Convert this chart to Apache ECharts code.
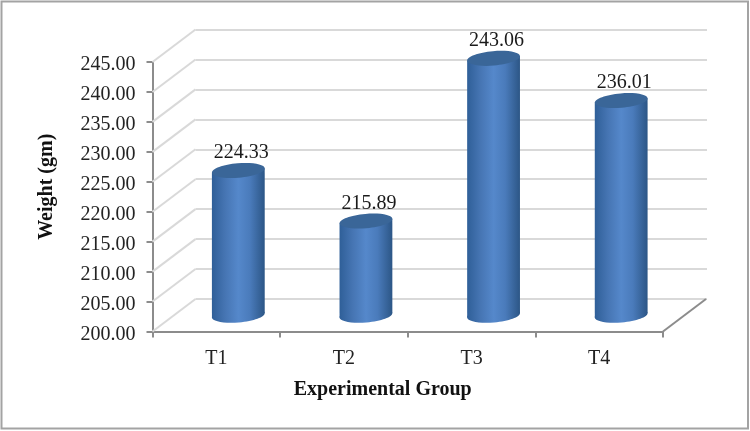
<!DOCTYPE html>
<html>
<head>
<meta charset="utf-8">
<style>html,body{margin:0;padding:0;background:#fff}#chart{width:750px;height:431px}</style>
<script src="https://cdn.jsdelivr.net/npm/echarts@6/dist/echarts.min.js"></script>
</head>
<body>
<div id="chart"></div>
<script>
const groups = ['T1', 'T2', 'T3', 'T4'];
const weights = [224.33, 215.89, 243.06, 236.01];
const weightTicks = [200, 205, 210, 215, 220, 225, 230, 235, 240, 245];

const depthX = 43;
const depthY = 32.5;
const font = '"Liberation Serif", "Times New Roman", serif';

const bodyFill = {
  type: 'linear', x: 0, y: 0, x2: 1, y2: 0,
  colorStops: [
    { offset: 0, color: '#2f5f98' },
    { offset: 0.25, color: '#4675b3' },
    { offset: 0.5, color: '#5588cb' },
    { offset: 0.72, color: '#4a7bbb' },
    { offset: 1, color: '#2c5686' }
  ]
};

// cylinders sit half way into the depth of the floor
const drawCylinder = (params, api) => {
  const base = api.coord([api.value(0), 200]);
  const top = api.coord([api.value(0), api.value(1)]);
  const cx = base[0] + depthX / 2 + 0.5;
  const rx = 26.5;
  const ry = 7.2;
  const tilt = 0.085;
  const ex = rx * Math.cos(tilt);
  const ey = rx * Math.sin(tilt);
  const topY = top[1] - depthY / 2 + 1;
  const baseY = base[1] - depthY / 2;
  return {
    type: 'group',
    children: [
      { type: 'ellipse', x: cx, y: baseY, rotation: tilt, shape: { cx: 0, cy: 0, rx, ry }, style: { fill: bodyFill } },
      {
        type: 'polygon',
        shape: { points: [[cx - ex, topY + ey], [cx + ex, topY - ey], [cx + ex, baseY - ey], [cx - ex, baseY + ey]] },
        style: { fill: bodyFill }
      },
      { type: 'ellipse', x: cx, y: topY, rotation: tilt, shape: { cx: 0, cy: 0, rx, ry }, style: { fill: '#3a6698' } },
      {
        type: 'text',
        style: {
          x: cx + 3, y: topY - ry - 10.5,
          text: api.value(1).toFixed(2),
          font: '20px ' + font,
          fill: '#1a1a1a',
          align: 'center',
          verticalAlign: 'middle'
        }
      }
    ]
  };
};

// side wall lines going from the value axis back to the rear wall
const drawWallLine = (params, api) => {
  const y = api.coord([0, api.value(1)])[1];
  const x = params.coordSys.x;
  return {
    type: 'line',
    shape: { x1: x, y1: y, x2: x + depthX, y2: y - depthY },
    style: { stroke: '#d9d9d9', lineWidth: 2 }
  };
};

const drawFloorEdge = (params, api) => {
  const cs = params.coordSys;
  const y = api.coord([0, 200])[1];
  return {
    type: 'line',
    shape: { x1: cs.x + cs.width, y1: y, x2: cs.x + cs.width + depthX, y2: y - depthY },
    style: { stroke: '#8c8c8c', lineWidth: 2 }
  };
};

const option = {
  backgroundColor: '#ffffff',
  animation: false,
  graphic: [{
    type: 'rect',
    silent: true,
    shape: { x: 1.5, y: 1.5, width: 746.5, height: 427 },
    style: { fill: 'none', stroke: '#a3a3a3', lineWidth: 2 }
  }],
  grid: [
    { left: 152.5, right: 87, top: 62, bottom: 99.5 },
    { left: 195.5, right: 43, top: 29.5, bottom: 132 }
  ],
  xAxis: [
    {
      type: 'category', gridIndex: 0, data: groups,
      name: 'Experimental Group',
      nameLocation: 'middle',
      nameGap: 48,
      nameTextStyle: { fontFamily: font, fontSize: 20, fontWeight: 'bold', color: '#111', padding: [0, 50, 0, 0] },
      axisLine: { lineStyle: { color: '#8c8c8c', width: 2 } },
      axisTick: { show: true, length: 6, lineStyle: { color: '#8c8c8c', width: 2 } },
      axisLabel: { fontFamily: font, fontSize: 20, color: '#222', margin: 17 }
    },
    {
      type: 'category', gridIndex: 1, data: groups,
      axisLine: { show: false }, axisTick: { show: false }, axisLabel: { show: false }
    }
  ],
  yAxis: [
    {
      type: 'value', gridIndex: 0, min: 200, max: 245, interval: 5,
      name: 'Weight (gm)',
      nameLocation: 'middle',
      nameGap: 96,
      nameRotate: 90,
      nameTextStyle: { fontFamily: font, fontSize: 20, fontWeight: 'bold', color: '#111', padding: [0, 0, 0, 20] },
      axisLine: { show: true, lineStyle: { color: '#8c8c8c', width: 2 } },
      axisTick: { show: true, length: 6, lineStyle: { color: '#8c8c8c', width: 2 } },
      axisLabel: { fontFamily: font, fontSize: 20, color: '#222', margin: 17, verticalAlign: 'top', lineHeight: 6, formatter: (v) => v.toFixed(2) },
      splitLine: { show: false }
    },
    {
      type: 'value', gridIndex: 1, min: 200, max: 245, interval: 5,
      axisLine: { show: false }, axisTick: { show: false }, axisLabel: { show: false },
      splitLine: { show: true, lineStyle: { color: '#d9d9d9', width: 2 } }
    }
  ],
  series: [
    {
      type: 'custom', xAxisIndex: 0, yAxisIndex: 0, clip: false, silent: true, z: 1,
      renderItem: drawWallLine,
      encode: { x: 0, y: 1 },
      data: weightTicks.map((t) => [0, t])
    },
    {
      type: 'custom', xAxisIndex: 0, yAxisIndex: 0, clip: false, silent: true, z: 1,
      renderItem: drawFloorEdge,
      encode: { x: 0, y: 1 },
      data: [[0, weightTicks[0]]]
    },
    {
      type: 'custom', xAxisIndex: 0, yAxisIndex: 0, clip: false, silent: true, z: 5,
      renderItem: drawCylinder,
      encode: { x: 0, y: 1 },
      data: weights.map((w, i) => [i, w])
    }
  ]
};

const myChart = echarts.init(document.getElementById('chart'));
myChart.setOption(option);
</script>
</body>
</html>
